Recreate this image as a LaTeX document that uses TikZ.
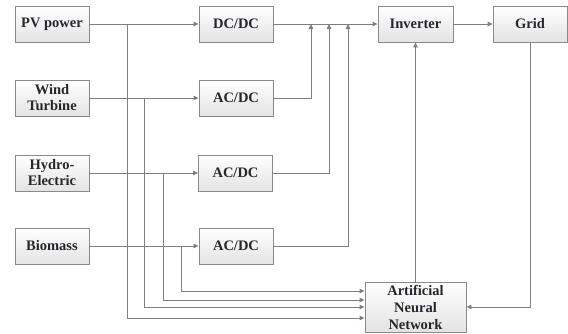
\documentclass[tikz,border=0pt]{standalone}
\usepackage{fontspec}
\setmainfont{Liberation Serif}
\usetikzlibrary{arrows.meta,calc}
\definecolor{wire}{HTML}{7F7F7F}
\definecolor{frame}{HTML}{8A8A8A}
\definecolor{ink}{HTML}{26262E}
\tikzset{
  x=1pt, y=-1pt,
  blk/.style={draw=frame, line width=0.9pt, rectangle, top color=white, bottom color=black!11,
    minimum width=74pt, minimum height=36pt, inner sep=1pt, align=center,
    text=ink, font=\bfseries\fontsize{14.5}{16}\selectfont},
  wire/.style={draw=wire, line width=0.9pt},
  arr/.style={wire, -{Triangle[length=5pt,width=4.5pt]}},
}
\begin{document}
\begin{tikzpicture}
\useasboundingbox (0,0) rectangle (568,333);
% sources
\node[blk] (pv) at (52,24) {PV power};
\node[blk] (wind) at (52,98) {Wind\\Turbine};
\node[blk] (hydro) at (52,173) {Hydro-\\Electric};
\node[blk] (bio) at (52,246) {Biomass};
% converters
\node[blk] (dcdc) at (236,24) {DC/DC};
\node[blk] (ac1) at (236,98) {AC/DC};
\node[blk] (ac2) at (235.5,173) {AC/DC};
\node[blk] (ac3) at (236,246) {AC/DC};
% grid side
\node[blk, minimum width=75pt] (inv) at (415.5,24) {Inverter};
\node[blk] (grid) at (530,24) {Grid};
\node[blk, minimum width=101pt, minimum height=50pt,
  font=\bfseries\fontsize{14.5}{17}\selectfont] (ann) at (415.5,307) {Artificial\\Neural\\Network};

% branch points on the source lines
\coordinate (t1) at (127,24);
\coordinate (t2) at (144,98);
\coordinate (t3) at (163,173);
\coordinate (t4) at (181,246);
% collector columns into the main bus
\coordinate (c1) at (311,24);
\coordinate (c2) at (329,24);
\coordinate (c3) at (348,24);

% sources to converters
\draw[arr] (pv.east) -- (dcdc.west);
\draw[arr] (wind.east) -- (ac1.west);
\draw[arr] (hydro.east) -- (ac2.west);
\draw[arr] (bio.east) -- (ac3.west);

% measurements to the neural network
\draw[arr] (t1) |- ($(ann.west)+(0,11)$);
\draw[arr] (t2) |- (ann.west);
\draw[arr] (t3) |- ($(ann.west)+(0,-7)$);
\draw[arr] (t4) |- ($(ann.west)+(0,-16)$);

% converters onto the DC bus
\draw[arr] (dcdc.east) -- (inv.west);
\draw[arr] (ac1.east) -| (c1);
\draw[arr] (ac2.east) -| (c2);
\draw[arr] (ac3.east) -| (c3);

% inverter, grid and control
\draw[arr] (inv.east) -- (grid.west);
\draw[arr] (grid.south) |- (ann.east);
\draw[arr] (ann.north) -- (inv.south);
\end{tikzpicture}
\end{document}
